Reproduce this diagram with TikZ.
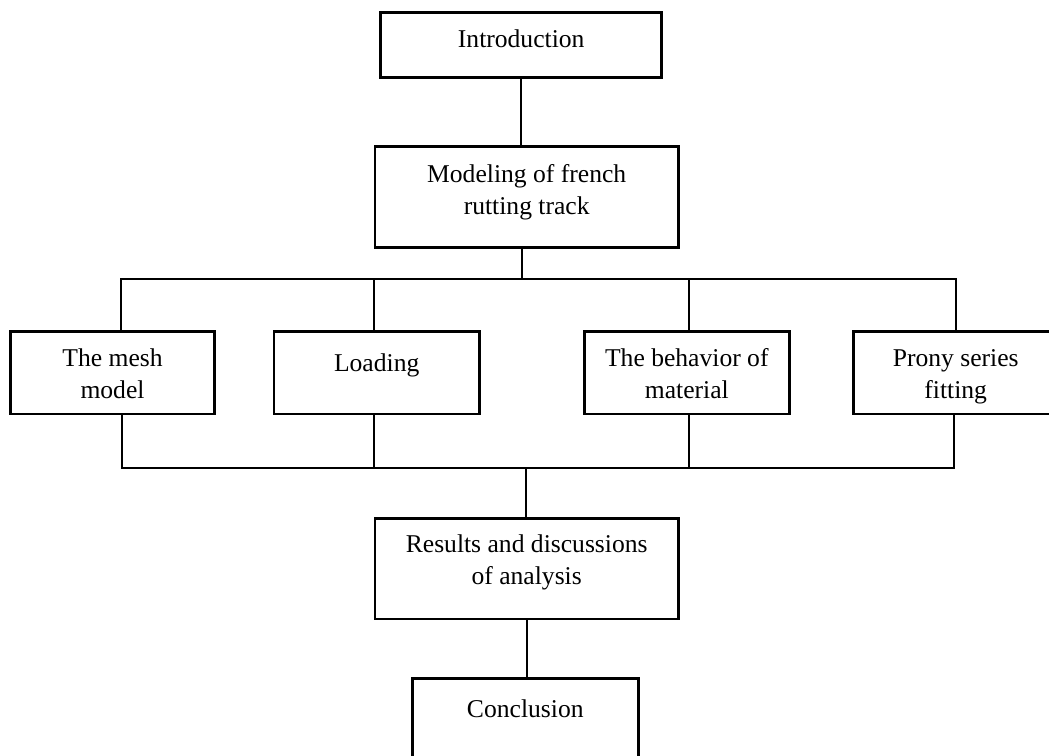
\documentclass[tikz,border=0pt]{standalone}
\usepackage{fontspec}
\setmainfont{Liberation Serif}
\usepackage{tikz}
\usetikzlibrary{calc, positioning}
\tikzset{
    frame/.style={line width=1.3pt},
    link/.style={line width=1pt},
}
\newcommand{\stage}[6]{
    \node[align=center, inner sep=0cm] (#1-c) at ($(#2) + (0, #5)$) {#6};
    \coordinate (#1-u) at ($(#2) + (0, -#4)$);
    \coordinate (#1-d) at ($(#2) + (0, #4)$);
    \draw[frame]
    ($(#2) + (-#3, -#4)$) -- ($(#2) + (#3, -#4)$) -- ($(#2) + (#3, #4)$) -- ($(#2) + (-#3, #4)$) -- cycle;
}

\begin{document}
\begin{tikzpicture}[x=0.5pt, y=-0.5pt, font=\fontsize{12.8}{16}\selectfont]
    \useasboundingbox (0, 0) rectangle (1049, 755);
    \clip (0, 0) rectangle (1049, 755);
    \stage{intro}{521.2, 45}{140.5}{32.3}{-6.3}{Introduction}
    \stage{model}{526.7, 197.2}{151.7}{50.5}{-5.4}{Modeling of french\\rutting track}
    \stage{mesh}{112.5, 372.8}{101.8}{41.2}{1.4}{The mesh\\model}
    \stage{load}{376.7, 372.8}{102.7}{41.2}{-7.3}{Loading}
    \stage{behav}{686.8, 372.8}{102.5}{41.2}{1.2}{The behavior of\\material}
    \stage{prony}{955.7, 372.8}{102.5}{41.2}{4.2}{Prony series\\fitting}
    \stage{result}{526.7, 568.7}{151.7}{50.3}{-5.9}{Results and discussions\\of analysis}
    \stage{concl}{525.3, 728.3}{113}{50}{-19.3}{Conclusion}
    \coordinate (split) at (522, 279.3);
    \coordinate (join) at (526, 468.3);
    \coordinate (top-a) at (121, 279.3);
    \coordinate (top-b) at (374, 279.3);
    \coordinate (top-c) at (689.3, 279.3);
    \coordinate (top-d) at (955.5, 279.3);
    \coordinate (bot-a) at (122, 468.3);
    \coordinate (bot-b) at (374, 468.3);
    \coordinate (bot-c) at (689.3, 468.3);
    \coordinate (bot-d) at (954.3, 468.3);
    \draw[link]
    (intro-d) -- (intro-d |- model-u)
    (split |- model-d) -- (split)
    (top-a |- mesh-u) -- (top-a) -- (top-d) -- (top-d |- prony-u)
    (bot-a |- mesh-d) -- (bot-a) -- (bot-d) -- (bot-d |- prony-d)
    (join) -- (join |- result-u)
    (result-d) -- (result-d |- concl-u);
    \foreach \n/\b in {b/load, c/behav}
    {
        \draw[link] (top-\n) -- (top-\n |- \b-u);
        \draw[link] (bot-\n |- \b-d) -- (bot-\n);
    }
\end{tikzpicture}
\end{document}
